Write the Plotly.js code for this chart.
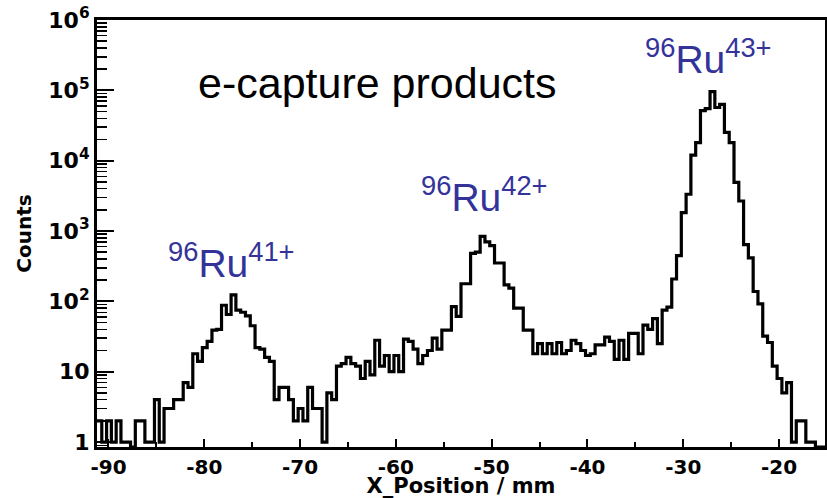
<!DOCTYPE html>
<html>
<head>
<meta charset="utf-8">
<script src="https://cdn.plot.ly/plotly-3.0.1.min.js"></script>
<style>
  html, body { margin: 0; padding: 0; background: #fff; }
  #chart { width: 827px; height: 498px; }
</style>
</head>
<body>
<div id="chart"></div>
<script>
// Position spectrum of e-capture products, 0.5 mm bins starting at -91.2 mm
const BIN_LO = -91.2;
const BIN_WIDTH = 0.5;
const counts = [
  2, 1, 2, 1, 2, 1, 1, 0, 2, 2,
  1, 1, 4, 1, 3, 3, 4, 4, 7, 6,
  18, 14, 22, 27, 39, 40, 88, 65, 124, 75,
  70, 62, 45, 22, 21, 16, 14, 4, 6, 6,
  4, 2, 3, 2, 6, 3, 3, 1, 5, 4,
  12, 13, 16, 13, 12, 8, 14, 9, 28, 12,
  17, 10, 17, 10, 29, 27, 21, 13, 17, 20,
  30, 21, 39, 39, 84, 61, 178, 178, 480, 500,
  840, 700, 620, 351, 351, 172, 154, 80, 80, 39,
  39, 18, 25, 18, 25, 18, 26, 18, 20, 28,
  25, 20, 17, 18, 24, 24, 31, 27, 15, 28,
  15, 35, 35, 18, 46, 40, 57, 25, 75, 83,
  208, 446, 1820, 3330, 12000, 18000, 51500, 55000, 96000, 57000,
  63000, 25300, 18000, 4900, 2670, 640, 415, 138, 92, 32,
  26, 12, 8, 5, 7, 1, 2, 2, 1, 1,
  0, 0
];

const X_TICKS = [-90, -80, -70, -60, -50, -40, -30, -20];
const X_MINOR = [-85, -75, -65, -55, -45, -35, -25, -15];
const Y_TICKS = [1, 10, 100, 1000, 10000, 100000, 1000000];
const Y_LABELS = ['1', '10', '10<sup>2</sup>', '10<sup>3</sup>', '10<sup>4</sup>', '10<sup>5</sup>', '10<sup>6</sup>'];

const peakLabels = [
  {x: -77.2, text: '<sup>96</sup>Ru<sup>41+</sup>'},
  {x: -50.7, text: '<sup>96</sup>Ru<sup>42+</sup>'},
  {x: -27.35, text: '<sup>96</sup>Ru<sup>43+</sup>'}
];
const peakLabelLevel = [2.21, 3.14, 5.1];   // log10(counts) of label bottom

const X_RANGE = [-91.2, -15.2];
const Y_RANGE = [Math.log10(0.85), 6];

// Step outline: each bin drawn from its left edge, closed at the last right edge
const edges = counts.map((_, i) => BIN_LO + i * BIN_WIDTH);
edges.push(BIN_LO + counts.length * BIN_WIDTH);
const floor = Math.pow(10, Y_RANGE[0]);
const shown = counts.map(c => (c > 0 ? c : floor));
shown.push(shown[shown.length - 1]);

const tickFontX = {family: 'DejaVu Sans', size: 20, color: '#000', weight: 'bold'};
const tickFontY = {family: 'DejaVu Sans', size: 22, color: '#000', weight: 'bold'};

const trace = {
  type: 'scatter',
  mode: 'lines',
  x: edges,
  y: shown,
  line: {shape: 'hv', color: '#000', width: 3.2},
  hoverinfo: 'skip'
};

const annotations = peakLabels.map((p, i) => ({
  x: p.x, y: peakLabelLevel[i], xref: 'x', yref: 'y',
  text: p.text, showarrow: false, xanchor: 'center', yanchor: 'bottom',
  font: {family: 'Liberation Sans, Arial, sans-serif', size: 39, color: '#33339a'}
}));
annotations.push({
  x: 0.136, y: 0.852, xref: 'paper', yref: 'paper',
  text: 'e-capture products', showarrow: false, xanchor: 'left', yanchor: 'middle',
  font: {family: 'Liberation Sans, Arial, sans-serif', size: 43, color: '#000'}
});

const layout = {
  width: 827, height: 498,
  margin: {l: 97, r: 2, t: 20, b: 51, pad: 0},
  paper_bgcolor: '#fff', plot_bgcolor: '#fff',
  showlegend: false,
  xaxis: {
    range: X_RANGE,
    tickmode: 'array', tickvals: X_TICKS, ticktext: X_TICKS.map(v => String(v)),
    ticks: 'inside', ticklen: 8, tickwidth: 2, tickcolor: '#000',
    minor: {tickmode: 'array', tickvals: X_MINOR, ticks: 'inside', ticklen: 5, tickwidth: 2, tickcolor: '#000'},
    showline: true, linewidth: 3, linecolor: '#000', mirror: true,
    showgrid: false, zeroline: false,
    tickfont: tickFontX,
    title: {text: 'X_Position / mm', font: {family: 'DejaVu Sans', size: 21, color: '#000', weight: 'bold'}, standoff: 1},
    automargin: false
  },
  yaxis: {
    type: 'log', range: Y_RANGE,
    tickmode: 'array', tickvals: Y_TICKS, ticktext: Y_LABELS,
    ticks: 'inside', ticklen: 17, tickwidth: 2, tickcolor: '#000',
    minor: {ticks: 'inside', ticklen: 10, tickwidth: 1.5, tickcolor: '#000', dtick: 'D1'},
    showline: true, linewidth: 3, linecolor: '#000', mirror: true,
    showgrid: false, zeroline: false,
    tickfont: tickFontY,
    title: {text: 'Counts', font: {family: 'DejaVu Sans', size: 20, color: '#000', weight: 'bold'}, standoff: 12},
    automargin: false
  },
  annotations: annotations
};

Plotly.newPlot('chart', [trace], layout, {staticPlot: true, displayModeBar: false});
</script>
</body>
</html>
